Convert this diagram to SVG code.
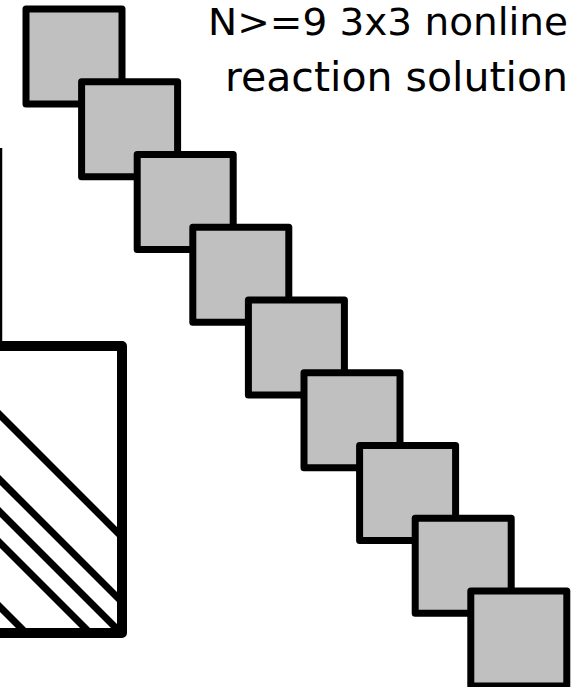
<svg xmlns="http://www.w3.org/2000/svg" width="571" height="687" viewBox="0 0 571 687">
  <style>
    .sq { fill: #c0c0c0; stroke: #000; stroke-width: 7; stroke-linejoin: round; }
    .frame { fill: none; stroke: #000; stroke-width: 10; stroke-linejoin: round; }
    .hatch { stroke: #000; stroke-width: 7; fill: none; }
    .lbl { font-family: "DejaVu Sans", "Liberation Sans", sans-serif; font-size: 40px; fill: #000; }
  </style>
  <rect width="571" height="687" fill="#fff"/>
  <g id="matrix">
    <line x1="1" y1="148" x2="1" y2="346" stroke="#000" stroke-width="2.5"/>
    <g id="hatching">
      <line class="hatch" x1="-10" y1="405" x2="122" y2="537"/>
      <line class="hatch" x1="-10" y1="470" x2="122" y2="602"/>
      <line class="hatch" x1="-10" y1="502" x2="121" y2="633"/>
      <line class="hatch" x1="-10" y1="533" x2="90" y2="633"/>
      <line class="hatch" x1="-10" y1="597" x2="26" y2="633"/>
    </g>
    <rect class="frame" x="-60" y="346" width="182" height="287"/>
  </g>
  <g id="blocks">
    <g id="b1"><rect class="sq" x="26" y="9" width="96" height="95"/></g>
    <g id="b2"><rect class="sq" x="81.6" y="81.75" width="96" height="95"/></g>
    <g id="b3"><rect class="sq" x="137.2" y="154.5" width="96" height="95"/></g>
    <g id="b4"><rect class="sq" x="192.8" y="227.25" width="96" height="95"/></g>
    <g id="b5"><rect class="sq" x="248.4" y="300" width="96" height="95"/></g>
    <g id="b6"><rect class="sq" x="304" y="372.75" width="96" height="95"/></g>
    <g id="b7"><rect class="sq" x="359.6" y="445.5" width="96" height="95"/></g>
    <g id="b8"><rect class="sq" x="415.2" y="518.25" width="96" height="95"/></g>
    <g id="b9"><rect class="sq" x="470.8" y="591" width="96" height="95"/></g>
  </g>
  <g id="label">
    <text class="lbl" x="208" y="35" textLength="360" lengthAdjust="spacingAndGlyphs" style="font-size:37px">N&gt;=9 3x3 nonline</text>
    <text class="lbl" x="225" y="91" textLength="343" lengthAdjust="spacingAndGlyphs">reaction solution</text>
  </g>
</svg>
